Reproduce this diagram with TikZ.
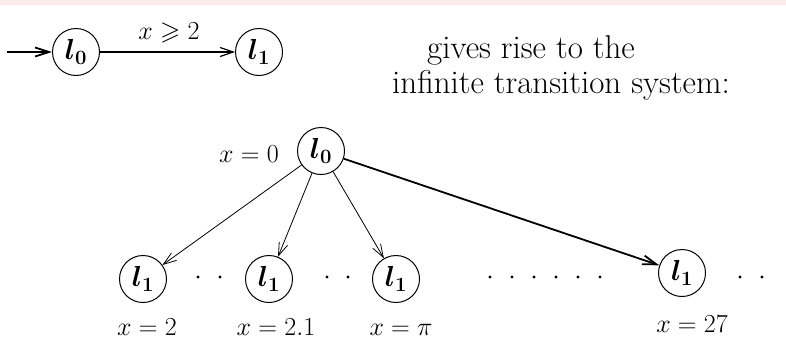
\RequirePackage{fix-cm}
\documentclass[tikz,border=0pt]{standalone}
\usepackage{amssymb}
\usetikzlibrary{arrows.meta}
\definecolor{stripcol}{RGB}{251,234,234}
\tikzset{
  loc/.style={circle,draw,line width=1pt,minimum size=47pt,inner sep=0pt,font=\fontsize{29}{34}\selectfont\boldmath},
  lab/.style={inner sep=0pt,anchor=base,font=\fontsize{26}{30}\selectfont},
  txt/.style={inner sep=0pt,anchor=base west,font=\fontsize{33}{38}\selectfont},
  edge/.style={line width=0.8pt,-{Straight Barb[length=13pt,width=9pt]}},
  thickedge/.style={line width=1.8pt,-{Straight Barb[length=14pt,width=9pt]}},
  dot/.style={fill=black}
}
\begin{document}
\begin{tikzpicture}[x=1pt,y=-1pt]
\useasboundingbox (0,0) rectangle (786,343);
\fill[stripcol] (0,0) rectangle (786,5);
% top automaton
\coordinate (start) at (7,52);
\node[loc] (a0) at (76,52) {$l_0$};
\node[loc] (a1) at (259,52) {$l_1$};
\draw[thickedge] (start) -- (a0);
\draw[edge,line width=1.2pt] (a0) -- (a1);
\node[lab] (g) at (169,39) {$x\geqslant 2$};
\node[txt] (t1) at (427,58) {gives rise to the};
\node[txt] (t2) at (392,93) {infinite transition system:};
% tree
\node[loc] (r) at (321,151) {$l_0$};
\node[lab] (rl) at (249,162) {$x=0$};
\node[loc] (b1) at (143,279) {$l_1$};
\node[loc] (b2) at (269,279) {$l_1$};
\node[loc] (b3) at (396,279) {$l_1$};
\node[loc] (b4) at (682,273) {$l_1$};
\draw[edge] (r) -- (b1);
\draw[edge] (r) -- (b2);
\draw[edge] (r) -- (b3);
\draw[thickedge] (r) -- (b4);
\node[lab] (x1) at (147,335) {$x=2$};
\node[lab] (x2) at (276,335) {$x=2.1$};
\node[lab] (x3) at (401,335) {$x=\pi$};
\node[lab] (x4) at (692,332) {$x=27$};
\foreach \px in {198,220,327,348,490,512,534,556,578,600,740,762}
  \fill[dot] (\px,277) circle (1.6pt);
\end{tikzpicture}
\end{document}
